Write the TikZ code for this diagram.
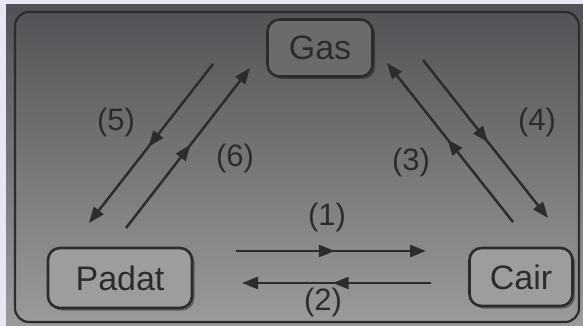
\documentclass[tikz,border=0pt]{standalone}
\usepackage{fontspec}
\setmainfont{Liberation Sans}
\usetikzlibrary{arrows.meta,decorations.markings,shadows}

\definecolor{ink}{HTML}{2A2C2E}
\definecolor{bgtop}{HTML}{505255}
\definecolor{bgbottom}{HTML}{9A9C9C}
\definecolor{paper}{HTML}{E8E6F4}
\definecolor{boxtop}{HTML}{696B6D}
\definecolor{boxlow}{HTML}{9C9E9E}

\tikzset{
    phase/.style={draw=ink, line width=2.6pt, rounded corners=12pt, text=ink,
        font=\fontsize{34}{40}\selectfont, inner sep=0pt,
        drop shadow={shadow xshift=2.5pt, shadow yshift=-2.5pt, fill=black, opacity=0.35}},
    lbl/.style={text=ink, font=\fontsize{31}{36}\selectfont, inner sep=0pt},
    flow/.style={draw=ink, line width=2.5pt, -{Triangle[length=16pt,width=12pt]},
        postaction={decorate},
        decoration={markings, mark=at position 0.52 with {\arrow{Triangle[length=16pt,width=12pt]}}}}
}

\begin{document}
\begin{tikzpicture}[x=1pt, y=-1pt]
    % Background and frame
    \useasboundingbox (0,0) rectangle (583,326);
    \fill[paper] (0,0) rectangle (583,326);
    \shade[top color=bgtop, bottom color=bgbottom] (6,5) rectangle (583,326);
    \draw[ink, line width=2.2pt, rounded corners=14pt] (15,12) rectangle (579,322);

    % Phases
    \node[phase, fill=boxtop, minimum width=105pt, minimum height=57pt] (gas) at (320,48) {Gas};
    \node[phase, fill=boxlow, minimum width=144pt, minimum height=60pt] (padat) at (120,278) {Padat};
    \node[phase, fill=boxlow, minimum width=103pt, minimum height=58pt] (cair) at (521,277) {Cair};

    % Arrow ends
    \coordinate (p1s) at (236,251);
    \coordinate (c1e) at (426,251);
    \coordinate (c2s) at (431,283);
    \coordinate (p2e) at (242,283);
    \coordinate (c3s) at (513,222);
    \coordinate (g3e) at (387,63);
    \coordinate (g4s) at (423,60);
    \coordinate (c4e) at (548,218);
    \coordinate (g5s) at (213,64);
    \coordinate (p5e) at (89,223);
    \coordinate (p6s) at (126,228);
    \coordinate (g6e) at (250,68);

    % Transitions
    \draw[flow] (p1s) -- (c1e);
    \draw[flow] (c2s) -- (p2e);
    \draw[flow] (c3s) -- (g3e);
    \draw[flow] (g4s) -- (c4e);
    \draw[flow] (g5s) -- (p5e);
    \draw[flow] (p6s) -- (g6e);

    % Labels
    \node[lbl] (l1) at (327,217) {(1)};
    \node[lbl] (l2) at (323,302) {(2)};
    \node[lbl] (l3) at (411,162) {(3)};
    \node[lbl] (l4) at (537,122) {(4)};
    \node[lbl] (l5) at (116,122) {(5)};
    \node[lbl] (l6) at (235,158) {(6)};
\end{tikzpicture}
\end{document}
